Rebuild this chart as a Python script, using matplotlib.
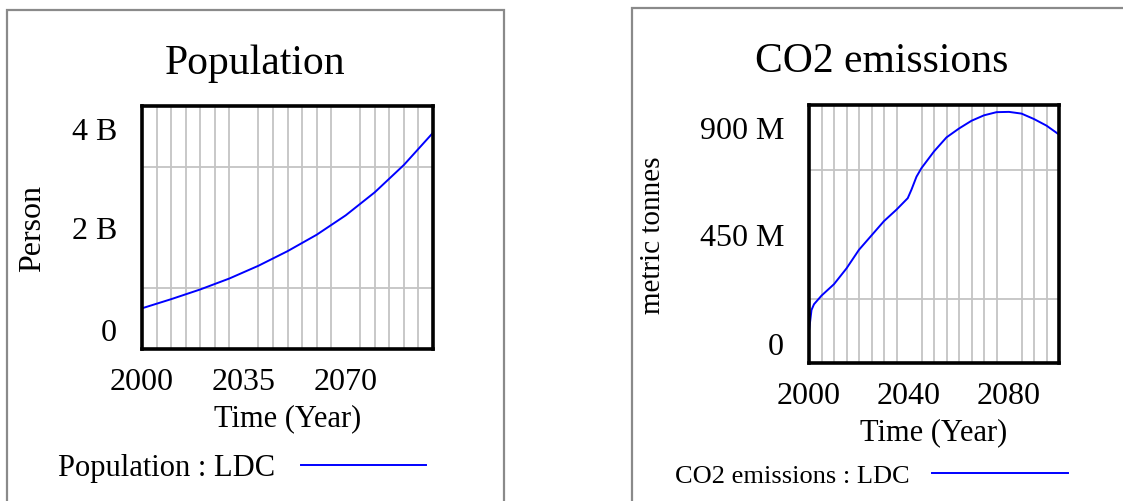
import numpy as np
import matplotlib as mpl
import matplotlib.pyplot as plt
from matplotlib.patches import Rectangle
from matplotlib.transforms import ScaledTranslation

# --- data
pop_years = [2000, 2010, 2020, 2030, 2040, 2050, 2060, 2070, 2080, 2090, 2100]
pop_values = [0.67e9, 0.82e9, 0.98e9, 1.16e9, 1.37e9, 1.61e9, 1.88e9, 2.20e9, 2.58e9, 3.03e9, 3.56e9]

co2_years = [2000, 2001, 2002, 2005, 2010, 2015, 2020, 2025, 2030, 2035, 2039.5,
             2041, 2043, 2045, 2050, 2055, 2060, 2065, 2070, 2075, 2080, 2085,
             2090, 2095, 2100]
co2_values = [112e6, 185e6, 205e6, 235e6, 275e6, 330e6, 395e6, 445e6, 495e6, 535e6, 575e6,
              605e6, 650e6, 680e6, 738e6, 787e6, 818e6, 845e6, 864e6, 875e6, 876e6, 870e6,
              851e6, 828e6, 797e6]

pop_xticks = [2000, 2035, 2070]
co2_xticks = [2000, 2040, 2080]
pop_yticks = [0, 2e9, 4e9]
pop_ylabels = ["0", "2 B", "4 B"]
co2_yticks = [0, 450e6, 900e6]
co2_ylabels = ["0", "450 M", "900 M"]

mpl.rcParams.update({
    "font.family": ["Liberation Serif", "DejaVu Serif"],
    "axes.linewidth": 2.6,
})

W, H = 1123, 502
fig = plt.figure(figsize=(W / 100, H / 100), dpi=100)


def px_axes(x0, y0, x1, y1):
    return fig.add_axes([x0 / W, 1 - y1 / H, (x1 - x0) / W, (y1 - y0) / H])


def frame(x0, y0, x1, y1):
    fig.patches.append(Rectangle((x0 / W, 1 - y1 / H), (x1 - x0) / W, (y1 - y0) / H,
                                 transform=fig.transFigure, fill=False,
                                 edgecolor="#8a8a8a", linewidth=1.6))


def panel(ax, years, values, ymax, xticks, yticks, ylabels, ylabel, ylabel_fs, label_x,
          legend_label, legend_xy, legend_fs, handle_len):
    ax.plot(years, values, color="#0000ff", linewidth=1.4, label=legend_label)
    ax.set_xlim(2000, 2100)
    ax.set_ylim(0, ymax)
    ax.set_xticks(np.arange(2005, 2100, 5), minor=True)
    ax.set_yticks([ymax / 4, ymax / 2, 3 * ymax / 4], minor=True)
    ax.grid(which="minor", color="#c4c4c4", linewidth=1.3)
    ax.set_axisbelow(True)
    ax.set_xticks(xticks)
    ax.set_yticks(yticks, ylabels)
    ax.tick_params(which="both", length=0)
    ax.tick_params(axis="x", pad=13, labelsize=23)
    ax.tick_params(axis="y", pad=18, labelsize=23)
    # top/bottom y labels sit inside the range
    labs = ax.get_yticklabels()
    labs[0].set_transform(labs[0].get_transform() + ScaledTranslation(0, 0.20, fig.dpi_scale_trans))
    labs[-1].set_transform(labs[-1].get_transform() + ScaledTranslation(0, -0.22, fig.dpi_scale_trans))
    ax.set_xlabel("Time (Year)", fontsize=22, labelpad=5)
    ax.set_ylabel(ylabel, fontsize=ylabel_fs)
    ax.yaxis.set_label_coords(label_x, 0.5)
    for s in ax.spines.values():
        s.set_zorder(5)
    fig.legend(loc="center left", bbox_to_anchor=(legend_xy[0] / W, 1 - legend_xy[1] / H),
               frameon=False, markerfirst=False, fontsize=legend_fs,
               handlelength=handle_len, handletextpad=0.85, borderpad=0, borderaxespad=0,
               handles=ax.get_lines())


frame(7, 11, 504, 520)
frame(632, 9, 1140, 520)

ax1 = px_axes(142, 107, 433, 350)
panel(ax1, pop_years, pop_values, 4e9, pop_xticks, pop_yticks, pop_ylabels,
      "Person", 23, -0.325, "Population : LDC", (58, 469), 22, 4.1)

ax2 = px_axes(809, 106, 1059, 364)
panel(ax2, co2_years, co2_values, 900e6, co2_xticks, co2_yticks, co2_ylabels,
      "metric tonnes", 21, -0.57, "CO2 emissions : LDC", (675, 476), 19, 5.15)

fig.text(255 / W, 1 - 74 / H, "Population", fontsize=30, ha="center", va="baseline")
fig.text(882 / W, 1 - 72 / H, "CO2 emissions", fontsize=30, ha="center", va="baseline")

fig.savefig("out.png", dpi=100)
